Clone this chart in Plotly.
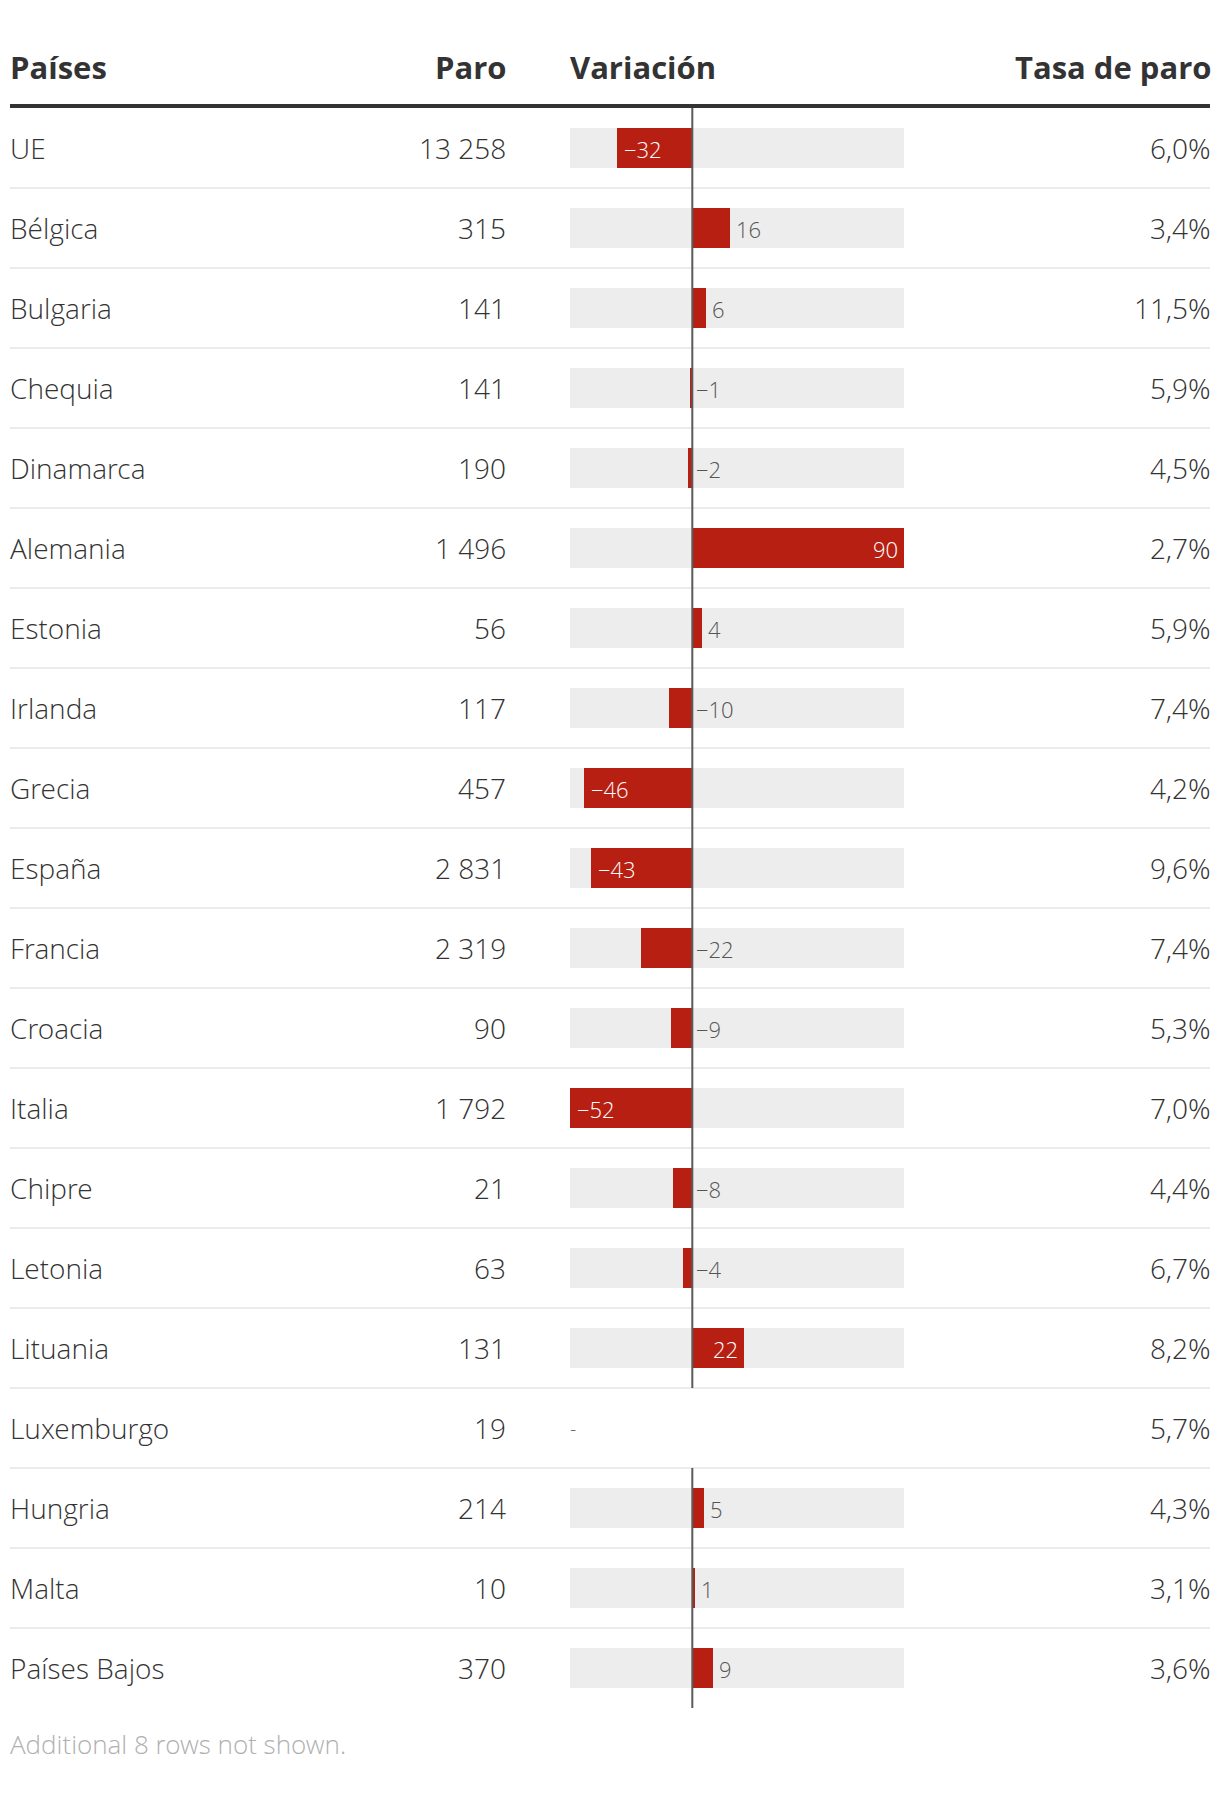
import plotly.graph_objects as go

# ---------------- data ----------------
paises = ["UE", "Bélgica", "Bulgaria", "Chequia", "Dinamarca", "Alemania", "Estonia",
          "Irlanda", "Grecia", "España", "Francia", "Croacia", "Italia", "Chipre",
          "Letonia", "Lituania", "Luxemburgo", "Hungria", "Malta", "Países Bajos"]
paro = [13258, 315, 141, 141, 190, 1496, 56, 117, 457, 2831, 2319, 90, 1792, 21,
        63, 131, 19, 214, 10, 370]
variacion = [-32, 16, 6, -1, -2, 90, 4, -10, -46, -43, -22, -9, -52, -8, -4, 22,
             None, 5, 1, 9]
tasa = [6.0, 3.4, 11.5, 5.9, 4.5, 2.7, 5.9, 7.4, 4.2, 9.6, 7.4, 5.3, 7.0, 4.4,
        6.7, 8.2, 5.7, 4.3, 3.1, 3.6]
encabezados = ["Países", "Paro", "Variación", "Tasa de paro"]
nota = "Additional 8 rows not shown."

# ---------------- layout constants ----------------
OFF = 8                      # page body margin
W, H = 1220 - 2 * OFF, 1812 - 2 * OFF
ROW0, PITCH = 148 - OFF, 80
FONT_L = "Open Sans Light, Open Sans"
FONT_B = "Open Sans"
RED = "#b71f13"
TXT = "#333333"
BODY = 28

def px(x):
    return (x - OFF) / W

def py(y):
    return 1 - (y - OFF) / H

def fmt_int(v):
    return f"{v:,}".replace(",", " ")

def fmt_pct(v):
    return f"{v:.1f}".replace(".", ",") + "%"

def fmt_var(v):
    return (f"−{abs(v)}" if v < 0 else f"{v}")

valid = [v for v in variacion if v is not None]
vmin, vmax = min(valid), max(valid)
bar_x0, bar_x1 = 570, 904
ppu = (bar_x1 - bar_x0) / (vmax - vmin)

rows_ok = [p for p, v in zip(paises, variacion) if v is not None]
vals_ok = [v for v in variacion if v is not None]

fig = go.Figure()

fig.add_trace(go.Bar(
    y=rows_ok, x=[vmax - vmin] * len(rows_ok), base=[vmin] * len(rows_ok),
    orientation="h", width=0.5, marker=dict(color="#ededed", line=dict(width=0)),
    hoverinfo="skip", showlegend=False))

fig.add_trace(go.Bar(
    y=rows_ok, x=vals_ok, orientation="h", width=0.5,
    marker=dict(color=RED, line=dict(width=0)),
    hoverinfo="skip", showlegend=False))

zx, zy = [], []
for i, (p, v) in enumerate(zip(paises, variacion)):
    if v is None:
        zx.append(None); zy.append(None)
        continue
    zx += [0, 0]
    zy += [i - 0.5, i + 0.5]
fig.add_trace(go.Scatter(x=zx, y=zy, mode="lines", line=dict(color="#5a5a5a", width=2),
                         hoverinfo="skip", showlegend=False, yaxis="y2"))

LS, RS = -2, 3   # compensate annotation padding
ann = []
LBL = 22
for i, (p, v) in enumerate(zip(paises, variacion)):
    ann.append(dict(xref="paper", yref="y", x=px(10), y=p, xanchor="left", yanchor="middle",
                    xshift=LS, text=p, showarrow=False,
                    font=dict(family=FONT_L, size=BODY, color=TXT, weight=300)))
    ann.append(dict(xref="paper", yref="y", x=px(505), y=p, xanchor="right", yanchor="middle",
                    xshift=RS, text=fmt_int(paro[i]), showarrow=False,
                    font=dict(family=FONT_L, size=BODY, color=TXT, weight=300)))
    ann.append(dict(xref="paper", yref="y", x=px(1210), y=p, xanchor="right", yanchor="middle",
                    xshift=RS, text=fmt_pct(tasa[i]), showarrow=False,
                    font=dict(family=FONT_L, size=BODY, color=TXT, weight=300)))
    if v is None:
        ann.append(dict(xref="paper", yref="y", x=px(570), y=p, xanchor="left", yanchor="middle",
                        xshift=LS, text="-", showarrow=False,
                        font=dict(family=FONT_L, size=20, color="#555555", weight=300)))
        continue
    lab = fmt_var(v)
    fits = abs(v) * ppu >= len(lab) * 0.58 * LBL + 14
    if fits:
        if v < 0:
            d = dict(x=v, xanchor="left", xshift=5)
        else:
            d = dict(x=v, xanchor="right", xshift=-4)
        col = "white"
    else:
        if v < 0:
            d = dict(x=0, xanchor="left", xshift=2)
        else:
            d = dict(x=v, xanchor="left", xshift=4)
        col = "#555555"
    ann.append(dict(xref="x", yref="y", y=p, yanchor="middle", yshift=-1, text=lab,
                    showarrow=False, font=dict(family=FONT_L, size=LBL, color=col, weight=300), **d))

hdr_pos = [(10, "left"), (505, "right"), (570, "left"), (1210, "right")]
for t, (x, a) in zip(encabezados, hdr_pos):
    ann.append(dict(xref="paper", yref="paper", x=px(x), y=py(67), xanchor=a, yanchor="middle",
                    xshift=(LS if a == "left" else RS), text=t, showarrow=False,
                    font=dict(family=FONT_B, size=31, color=TXT, weight=700)))

ann.append(dict(xref="paper", yref="paper", x=px(10), y=py(1744), xanchor="left", yanchor="middle",
                xshift=LS, text=nota, showarrow=False,
                font=dict(family=FONT_L, size=26, color="#b0b0b0", weight=300)))

shapes = []
shapes.append(dict(type="line", xref="paper", yref="paper", x0=px(10), x1=px(1210),
                   y0=py(106), y1=py(106), line=dict(color="#333333", width=4)))
for i in range(len(paises) - 1):
    shapes.append(dict(type="line", xref="paper", yref="y2", x0=px(10), x1=px(1210),
                       y0=i + 0.5, y1=i + 0.5, line=dict(color="#ebebeb", width=2), layer="below"))

yrange = [(H - ROW0) / PITCH, -ROW0 / PITCH]
fig.update_layout(
    width=W, height=H, margin=dict(l=0, r=0, t=0, b=0),
    paper_bgcolor="white", plot_bgcolor="white",
    barmode="overlay", bargap=0,
    xaxis=dict(domain=[px(bar_x0), px(bar_x1)], range=[vmin, vmax], visible=False, fixedrange=True),
    yaxis=dict(type="category", categoryorder="array", categoryarray=paises,
               range=yrange, visible=False, fixedrange=True),
    yaxis2=dict(overlaying="y", range=yrange, visible=False, fixedrange=True),
    annotations=ann, shapes=shapes, showlegend=False,
)
fig.write_html("out.html")
